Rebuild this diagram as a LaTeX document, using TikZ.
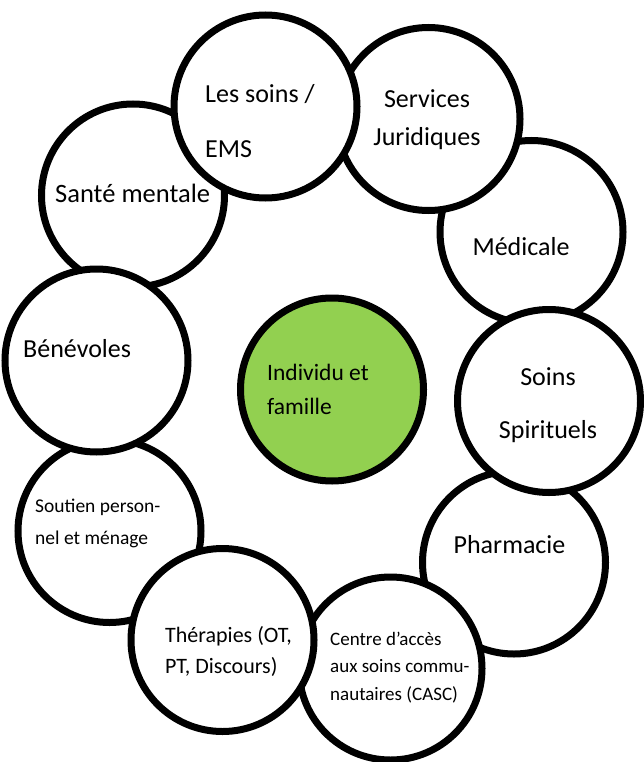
\documentclass[tikz,border=0pt]{standalone}
\usepackage{fontspec}
\setmainfont{Carlito}
\definecolor{leafgreen}{HTML}{92D050}

\begin{document}
\begin{tikzpicture}[x=1pt,y=-1pt,
			ring/.style={circle,draw=black,line width=7pt,fill=white,
				minimum size=183pt,inner sep=0pt},
			core/.style={ring,fill=leafgreen},
			txt/.style={inner sep=0pt,align=left,anchor=base west},
			ctxt/.style={inner sep=0pt,align=center,anchor=base}]
\useasboundingbox (0,0) rectangle (643,762);
% ring of services, drawn from the back to the front
\node[ring] (sante) at (133,195.5) {};
\node[ring] (medicale) at (531.5,232) {};
\node[ring] (juridique) at (428.5,119) {};
\node[ring] (ems) at (265.5,106.5) {};
\node[ring] (pharmacie) at (514,562.5) {};
\node[ring] (spirituel) at (549,401) {};
\node[ring] (soutien) at (109.5,531) {};
\node[ring] (casc) at (390.5,668.5) {};
\node[ring] (therapie) at (222.5,640) {};
\node[ring] (benevole) at (96.5,360.5) {};
\node[core] (famille) at (332,389.5) {};
% labels (multi-line ones sit on the baseline of their last line)
\node[txt,font=\fontsize{26}{55}\selectfont] (ems-t) at (205,158) {Les soins /\\EMS};
\node[txt,font=\fontsize{26.5}{31}\selectfont] (sante-t) at (55,202) {Santé mentale};
\node[ctxt,font=\fontsize{26}{38}\selectfont] (juridique-t) at (427,146) {Services\\Juridiques};
\node[ctxt,font=\fontsize{26}{31}\selectfont] (medicale-t) at (521,255) {Médicale};
\node[ctxt,font=\fontsize{26}{53}\selectfont] (spirituel-t) at (548,438) {Soins\\Spirituels};
\node[ctxt,font=\fontsize{26}{31}\selectfont] (pharmacie-t) at (509.5,553) {Pharmacie};
\node[txt,font=\fontsize{26}{31}\selectfont] (benevole-t) at (23,357) {Bénévoles};
\node[txt,font=\fontsize{19.5}{32}\selectfont] (soutien-t) at (35,544) {Soutien person-\\nel et ménage};
\node[txt,font=\fontsize{23.5}{34}\selectfont] (famille-t) at (267,414) {Individu et\\famille};
\node[txt,font=\fontsize{22}{31}\selectfont] (therapie-t) at (165,673) {Thérapies (OT,\\PT, Discours)};
\node[txt,font=\fontsize{19}{27.5}\selectfont] (casc-t) at (330,700) {Centre d’accès\\aux soins commu-\\nautaires (CASC)};
\end{tikzpicture}
\end{document}
